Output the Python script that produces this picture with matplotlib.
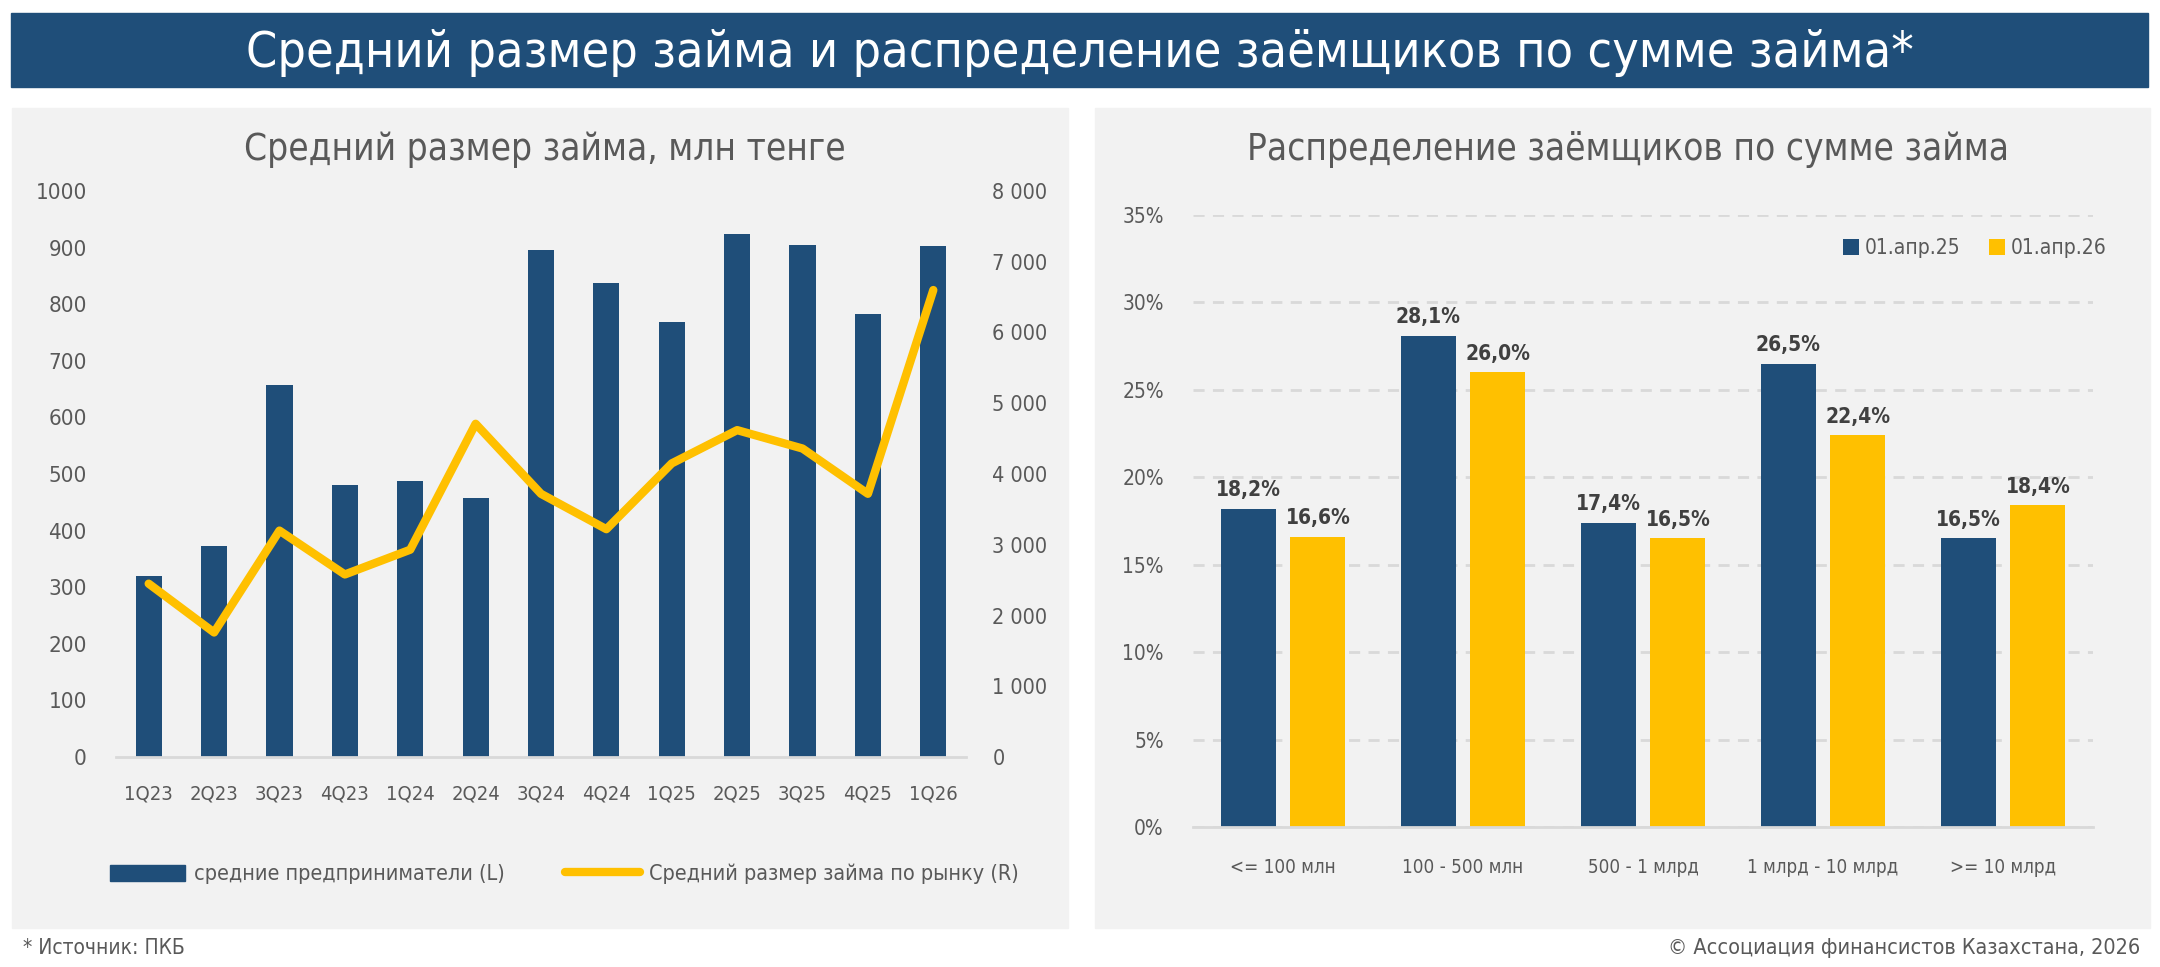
import numpy as np
import matplotlib.pyplot as plt
from matplotlib.patches import Rectangle
from matplotlib.lines import Line2D

plt.rcParams['font.family'] = ['DejaVu Sans']
plt.rcParams['font.stretch'] = 'condensed'

# left chart data
quarters = ['1Q23', '2Q23', '3Q23', '4Q23', '1Q24', '2Q24', '3Q24', '4Q24',
            '1Q25', '2Q25', '3Q25', '4Q25', '1Q26']
medium_biz = [320, 372, 657, 481, 488, 457, 895, 837, 769, 924, 905, 783, 903]
market_avg = [2450, 1760, 3200, 2580, 2930, 4710, 3720, 3220, 4150, 4620, 4360, 3720, 6600]

# right chart data
buckets = ['<= 100 млн', '100 - 500 млн', '500 - 1 млрд', '1 млрд - 10 млрд', '>= 10 млрд']
share_25 = [18.2, 28.1, 17.4, 26.5, 16.5]
share_26 = [16.6, 26.0, 16.5, 22.4, 18.4]

BLUE = '#1F4E79'
YELLOW = '#FFC000'
GRAY = '#595959'
W, H = 2160, 967

fig = plt.figure(figsize=(21.6, 9.67), dpi=100)
fig.patch.set_facecolor('white')

def px_rect(x0, y0, x1, y1, color):
    fig.add_artist(Rectangle((x0 / W, 1 - y1 / H), (x1 - x0) / W, (y1 - y0) / H,
                             transform=fig.transFigure, color=color, zorder=-10))

# banner and panels
px_rect(11, 13, 2148, 87, BLUE)
px_rect(12, 108, 1068, 928, '#F2F2F2')
px_rect(1095, 108, 2150, 928, '#F2F2F2')
fig.text(1080 / W, 1 - 67 / H, 'Средний размер займа и распределение заёмщиков по сумме займа*',
         color='white', fontsize=36, ha='center', va='baseline')

# ---- left chart ----
ax1 = fig.add_axes([116 / W, 1 - 757 / H, 850 / W, 566 / H])
ax1.set_facecolor('none')
x = np.arange(len(quarters))
ax1.bar(x, medium_biz, width=0.4, color=BLUE, zorder=2)
ax1.set_ylim(0, 1000)
ax1.set_xlim(-0.5, len(quarters) - 0.5)
ax1.set_yticks(range(0, 1001, 100))
ax1.set_xticks(x)
ax1.set_xticklabels(quarters)
for s in ['top', 'right', 'left']:
    ax1.spines[s].set_visible(False)
ax1.spines['bottom'].set_color('#D9D9D9')
ax1.spines['bottom'].set_linewidth(2)
ax1.tick_params(length=0, colors=GRAY)
ax1.tick_params(axis='x', pad=20, labelsize=14.5)
ax1.tick_params(axis='y', pad=21, labelsize=16)

ax2 = ax1.twinx()
ax2.plot(x, market_avg, color=YELLOW, lw=6, solid_joinstyle='round',
         solid_capstyle='round', zorder=3)
ax2.set_ylim(0, 8000)
ax2.set_yticks(range(0, 8001, 1000))
ax2.set_yticklabels([f'{v:,}'.replace(',', ' ') for v in range(0, 8001, 1000)])
for s in ['top', 'right', 'left', 'bottom']:
    ax2.spines[s].set_visible(False)
ax2.tick_params(length=0, labelsize=15.5, colors=GRAY, pad=19)

fig.text(545 / W, 1 - 160 / H, 'Средний размер займа, млн тенге', color=GRAY,
         fontsize=26.5, ha='center', va='baseline')

h1 = Rectangle((0, 0), 1, 1, color=BLUE)
h2 = Line2D([0], [0], color=YELLOW, lw=6, solid_capstyle='round')
fig.legend([h1, h2], ['средние предприниматели (L)', 'Средний размер займа по рынку (R)'],
           loc='center', bbox_to_anchor=(564 / W, 1 - 874 / H), ncol=2, frameon=False,
           fontsize=15.5, labelcolor=GRAY, handlelength=3.5, handleheight=0.8,
           columnspacing=2.8, handletextpad=0.4)

# ---- right chart ----
ax3 = fig.add_axes([1193 / W, 1 - 827 / H, 900 / W, 612 / H])
ax3.set_facecolor('none')
xb = np.arange(len(buckets))
bw = 0.306
b1 = ax3.bar(xb - 0.194, share_25, width=bw, color=BLUE, zorder=2, label='01.апр.25')
b2 = ax3.bar(xb + 0.194, share_26, width=bw, color=YELLOW, zorder=2, label='01.апр.26')
for bars, vals in [(b1, share_25), (b2, share_26)]:
    for r, v in zip(bars, vals):
        ax3.text(r.get_x() + r.get_width() / 2, v + 0.5, f'{v:.1f}%'.replace('.', ','),
                 ha='center', va='bottom', fontsize=15, fontweight='bold', color='#404040')
ax3.set_ylim(0, 35)
ax3.set_xlim(-0.5, len(buckets) - 0.5)
ax3.set_yticks(range(0, 36, 5))
ax3.set_yticklabels([f'{v}%' for v in range(0, 36, 5)])
ax3.set_xticks(xb)
ax3.set_xticklabels(buckets)
ax3.yaxis.grid(True, color='#D9D9D9', lw=2, ls=(0, (4, 3)), zorder=0)
for s in ['top', 'right', 'left']:
    ax3.spines[s].set_visible(False)
ax3.spines['bottom'].set_color('#D9D9D9')
ax3.spines['bottom'].set_linewidth(2)
ax3.tick_params(length=0, colors=GRAY)
ax3.tick_params(axis='x', pad=22, labelsize=13.5)
ax3.tick_params(axis='y', pad=21, labelsize=15)
ax3.legend(loc='center right', bbox_to_anchor=(2125 / W, 1 - 248 / H),
           bbox_transform=fig.transFigure, frameon=False, ncol=2, fontsize=15,
           labelcolor=GRAY, handlelength=0.78, handleheight=0.78, handletextpad=0.25,
           columnspacing=1.4)

fig.text(1628 / W, 1 - 160 / H, 'Распределение заёмщиков по сумме займа', color=GRAY,
         fontsize=26.5, ha='center', va='baseline')

# footer
fig.text(23 / W, 1 - 948 / H, '* Источник: ПКБ', color=GRAY, fontsize=15, ha='left', va='center')
fig.text(2140 / W, 1 - 948 / H, '© Ассоциация финансистов Казахстана, 2026', color=GRAY,
         fontsize=15.5, ha='right', va='center')

fig.savefig('out.png', dpi=100)
